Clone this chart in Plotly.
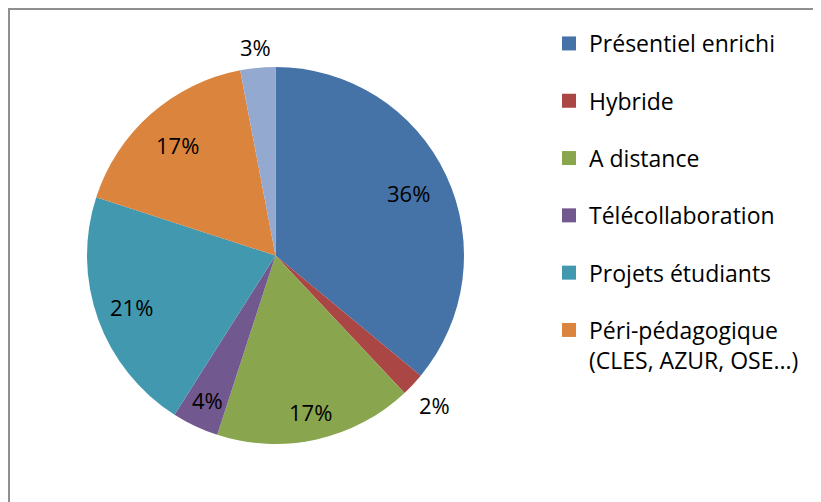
import math
import plotly.graph_objects as go

# ---- data ----
categories = ["Présentiel enrichi", "Hybride", "A distance", "Télécollaboration",
              "Projets étudiants", "Péri-pédagogique<br>(CLES, AZUR, OSE...)", "Autre"]
values = [36, 2, 17, 4, 21, 17, 3]
in_legend = [True, True, True, True, True, True, False]

# ---- style ----
colors = ["#4572A7", "#AA4643", "#89A54E", "#71588F", "#4198AF", "#DB843D", "#93A9CF"]
label_radius = [0.78, 1.16, 0.85, 0.85, 0.81, 0.785, 1.11]
FONT = "Open Sans"
FS = 22
# the page body adds an 8px offset, so the figure is 8px smaller
W, H = 813, 494
cx, cy, R = 267.5, 247.5, 188.5

fig = go.Figure()
fig.add_trace(go.Pie(
    labels=categories, values=values, sort=False, direction="clockwise", rotation=0,
    marker=dict(colors=colors, line=dict(width=0)),
    textposition="none", showlegend=False, hoverinfo="label+percent",
    domain=dict(x=[(cx - R) / W, (cx + R) / W], y=[1 - (cy + R) / H, 1 - (cy - R) / H]),
))

# legend entries via invisible dummy traces (the last slice is not in the legend)
for i, (name, col, show) in enumerate(zip(categories, colors, in_legend)):
    if not show:
        continue
    fig.add_trace(go.Scatter(
        x=[None], y=[None], mode="markers", name=name, legendgroup=f"g{i}",
        marker=dict(symbol="square", size=14, color=col, line=dict(width=0)),
        hoverinfo="skip",
    ))

# percentage labels from the data
total = sum(values)
cum = 0
for v, f in zip(values, label_radius):
    theta = math.radians(360 * (cum + v / 2) / total)
    cum += v
    px = cx + f * R * math.sin(theta)
    py = cy - f * R * math.cos(theta)
    fig.add_annotation(x=px / W, y=1 - py / H, xref="paper", yref="paper",
                       text=f"{round(100 * v / total)}%", showarrow=False,
                       font=dict(family=FONT, size=FS, color="#000000"),
                       xanchor="center", yanchor="middle")

fig.add_shape(type="rect", xref="paper", yref="paper",
              x0=1 / W, x1=811 / W, y0=-0.1, y1=1 - 1 / H,
              line=dict(color="#8f8f8f", width=2), fillcolor="rgba(0,0,0,0)")

fig.update_layout(
    width=W, height=H, margin=dict(l=0, r=0, t=0, b=0),
    paper_bgcolor="white", plot_bgcolor="white",
    xaxis=dict(visible=False), yaxis=dict(visible=False),
    font=dict(family=FONT, size=FS, color="#000000"),
    legend=dict(x=541 / W, y=1 - 14 / H, xanchor="left", yanchor="top",
                traceorder="grouped", tracegroupgap=24.4, valign="top",
                font=dict(family=FONT, size=23, color="#000000"),
                bgcolor="rgba(0,0,0,0)", borderwidth=0, itemclick=False),
)

fig.write_html("out.html")
